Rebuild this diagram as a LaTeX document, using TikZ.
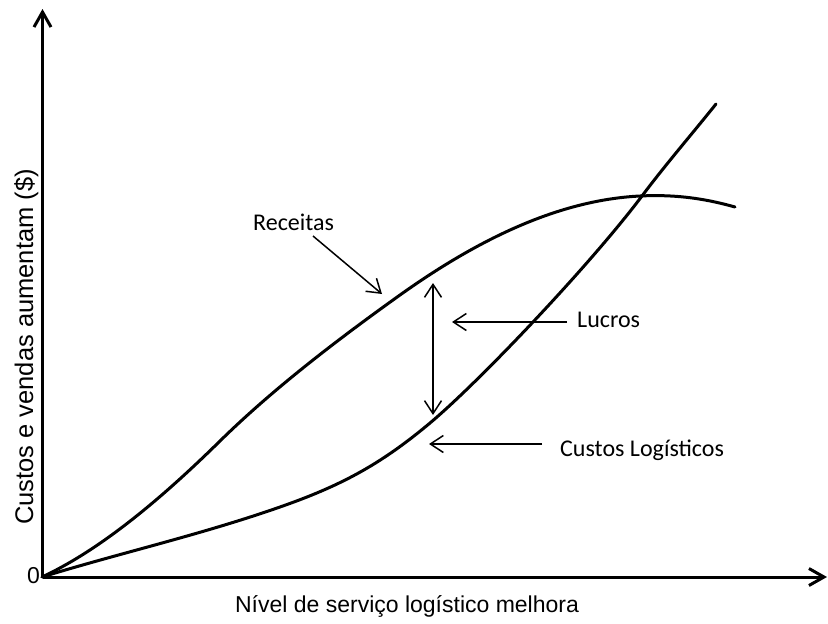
\documentclass[tikz,border=0pt]{standalone}
\usepackage{fontspec}
\setmainfont{Carlito}
\newfontfamily\arialfont{Liberation Sans}
\usetikzlibrary{arrows.meta}
\def\receitas{(42,577) .. controls (100,550) and (160,500) .. (220,441)
    .. controls (270,392) and (330,345) .. (400,295)
    .. controls (480,238) and (560,200) .. (640,196)
    .. controls (680,194) and (710,200) .. (735,207)}
\def\custos{(42,577) .. controls (120,553) and (200,535) .. (280,507)
    .. controls (340,486) and (380,465) .. (430,423)
    .. controls (480,381) and (590,265) .. (642,196)
    .. controls (666,164) and (692,134) .. (716,104)}
\tikzset{axis/.style={line width=3pt, -{Straight Barb[length=15pt,width=17pt]}},
    curve/.style={line width=3pt, line cap=round},
    pointer/.style={line width=1.5pt, -{Straight Barb[length=13pt,width=17pt]}},
    twoway/.style={line width=1.5pt, {Straight Barb[length=13pt,width=17pt]}-{Straight Barb[length=13pt,width=17pt]}},
    lbl/.style={inner sep=0pt, anchor=base west, font=\fontsize{24}{28}\selectfont},
    axlbl/.style={inner sep=0pt, anchor=base, font=\arialfont\fontsize{23}{27}\selectfont}}

\begin{document}
\begin{tikzpicture}[x=1pt,y=-1pt]
    \useasboundingbox (0,0) rectangle (828,624);
    % axes
    \coordinate (o) at (42.5,577);
    \coordinate (ytop) at (42.5,9);
    \coordinate (xend) at (827,577);
    \draw[axis] (o) -- (ytop);
    \draw[axis] (o) -- (xend);
    \node[axlbl, anchor=base east] (zero) at (40,583) {0};
    \node[axlbl] (xlab) at (407,612) {Nível de serviço logístico melhora};
    \node[axlbl, rotate=90, font=\arialfont\fontsize{25.5}{29}\selectfont] (ylab) at (33,347) {Custos e vendas aumentam (\$)};
    % curves
    \draw[curve] \receitas;
    \draw[curve] \custos;
    % labels
    \node[lbl] (rec) at (253,230) {Receitas};
    \node[lbl] (luc) at (577,327) {Lucros};
    \node[lbl] (cus) at (560,456) {Custos Logísticos};
    \coordinate (recA) at (313,236);
    \coordinate (recB) at (382,294);
    \coordinate (lucA) at (567,322);
    \coordinate (lucB) at (452,322);
    \coordinate (cusA) at (542,444);
    \coordinate (cusB) at (429,444);
    \coordinate (gapT) at (433,283);
    \coordinate (gapB) at (433,415);
    \draw[pointer] (recA) -- (recB);
    \draw[pointer] (lucA) -- (lucB);
    \draw[pointer] (cusA) -- (cusB);
    \draw[twoway] (gapT) -- (gapB);
\end{tikzpicture}
\end{document}
